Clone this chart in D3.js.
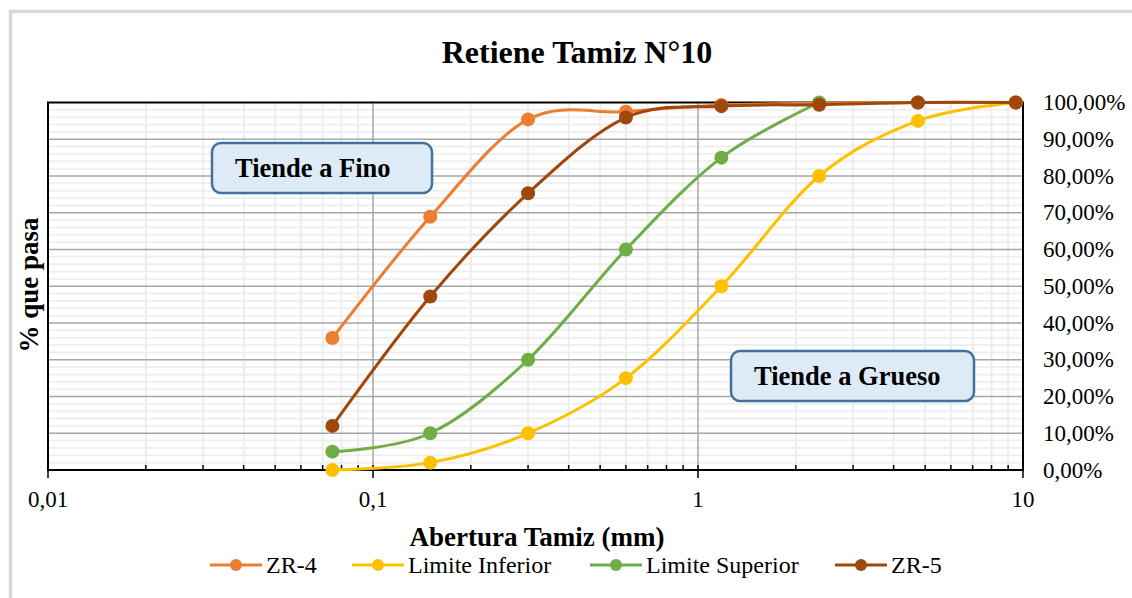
<!DOCTYPE html>
<html>
<head>
<meta charset="utf-8">
<script src="https://cdn.jsdelivr.net/npm/d3@7"></script>
<style>
  html, body { margin: 0; padding: 0; background: #fff; }
  svg { display: block; font-family: "Liberation Serif", "Times New Roman", serif; }
</style>
</head>
<body>
<svg id="chart" width="1132" height="598"></svg>
<script>
// Sieve openings (mm) and cumulative percent passing for each curve
const sieves = [0.075, 0.15, 0.3, 0.6, 1.18, 2.36, 4.75, 9.5];
const zr4 = [35.9, 68.9, 95.4, 97.5, 99.3, 99.8, 100, 100];
const limiteInferior = [0, 2, 10, 25, 50, 80, 95, 100];
const limiteSuperior = [5, 10, 30, 60, 85, 100, null, null];
const zr5 = [12.0, 47.2, 75.3, 95.9, 99.0, 99.4, 100, 100];

const seriesNames = ["ZR-4", "Limite Inferior", "Limite Superior", "ZR-5"];
const seriesColors = ["#ED7D31", "#FFC000", "#70AD47", "#9E480E"];
const seriesValues = [zr4, limiteInferior, limiteSuperior, zr5];

const xTickValues = [0.01, 0.1, 1, 10];
const xTickLabels = ["0,01", "0,1", "1", "10"];
const yTickValues = [0, 10, 20, 30, 40, 50, 60, 70, 80, 90, 100];

const titleText = "Retiene Tamiz N°10";
const xTitle = "Abertura Tamiz (mm)";
const yTitle = "% que pasa";
const noteFino = "Tiende a Fino";
const noteGrueso = "Tiende a Grueso";

const svg = d3.select("#chart");
const plot = { left: 48, right: 1023, top: 102.5, bottom: 470 };

const x = d3.scaleLog().domain([0.01, 10]).range([plot.left, plot.right]);
const y = d3.scaleLinear().domain([0, 100]).range([plot.bottom, plot.top]);

// outer chart frame (only left/top edges fall inside the view)
svg.append("rect")
  .attr("x", 10.5).attr("y", 11.5).attr("width", 1300).attr("height", 800)
  .attr("fill", "#fff").attr("stroke", "#D9D9D9").attr("stroke-width", 3.5);

// title
svg.append("text")
  .attr("x", 577).attr("y", 63)
  .attr("text-anchor", "middle")
  .attr("font-size", 32).attr("font-weight", "bold")
  .text(titleText);

const grid = svg.append("g");

// minor horizontal gridlines every 2 %
const minorY = d3.range(0, 101, 2).filter(v => v % 10 !== 0);
grid.selectAll("line.hminor").data(minorY).join("line")
  .attr("x1", plot.left).attr("x2", plot.right)
  .attr("y1", d => y(d)).attr("y2", d => y(d))
  .attr("stroke", "#EFEFEF").attr("stroke-width", 2);

// minor vertical gridlines at 2..9 in each decade
const minorX = [];
[0.01, 0.1, 1].forEach(dec => { for (let k = 2; k <= 9; k++) minorX.push(dec * k); });
grid.selectAll("line.vminor").data(minorX).join("line")
  .attr("x1", d => x(d)).attr("x2", d => x(d))
  .attr("y1", plot.top).attr("y2", plot.bottom)
  .attr("stroke", "#EDEDED").attr("stroke-width", 2);

// major horizontal gridlines
grid.selectAll("line.hmajor").data(yTickValues.slice(1, -1)).join("line")
  .attr("x1", plot.left).attr("x2", plot.right)
  .attr("y1", d => y(d)).attr("y2", d => y(d))
  .attr("stroke", "#A6A6A6").attr("stroke-width", 1.5);

// major vertical gridlines at decades
grid.selectAll("line.vmajor").data([0.1, 1]).join("line")
  .attr("x1", d => x(d)).attr("x2", d => x(d))
  .attr("y1", plot.top).attr("y2", plot.bottom)
  .attr("stroke", "#A6A6A6").attr("stroke-width", 1.5);

// bottom axis: minor ticks inside, decade ticks crossing
const axisG = svg.append("g");
axisG.selectAll("line.tminor").data(minorX).join("line")
  .attr("x1", d => x(d)).attr("x2", d => x(d))
  .attr("y1", plot.bottom - 5).attr("y2", plot.bottom)
  .attr("stroke", "#000").attr("stroke-width", 1.5);
axisG.selectAll("line.tmajor").data(xTickValues).join("line")
  .attr("x1", d => x(d)).attr("x2", d => x(d))
  .attr("y1", plot.bottom - 5).attr("y2", plot.bottom + 8)
  .attr("stroke", "#000").attr("stroke-width", 1.5);

// plot frame
svg.append("rect")
  .attr("x", plot.left).attr("y", plot.top)
  .attr("width", plot.right - plot.left).attr("height", plot.bottom - plot.top)
  .attr("fill", "none").attr("stroke", "#000").attr("stroke-width", 2);

// x tick labels
svg.append("g").selectAll("text").data(xTickValues).join("text")
  .attr("x", d => x(d)).attr("y", 507)
  .attr("text-anchor", "middle").attr("font-size", 23)
  .text((d, i) => xTickLabels[i]);

// y tick labels on the right
const pctFmt = v => v.toFixed(2).replace(".", ",") + "%";
svg.append("g").selectAll("text").data(yTickValues).join("text")
  .attr("x", 1043).attr("y", d => y(d) + 7.5)
  .attr("font-size", 23)
  .text(d => pctFmt(d));

// axis titles
svg.append("text")
  .attr("x", 537).attr("y", 546)
  .attr("text-anchor", "middle").attr("font-size", 27).attr("font-weight", "bold")
  .text(xTitle);
svg.append("text")
  .attr("transform", "translate(38,285) rotate(-90)")
  .attr("text-anchor", "middle").attr("font-size", 27).attr("font-weight", "bold")
  .text(yTitle);

// series: smoothed lines with circle markers
const line = d3.line()
  .x(d => x(d[0])).y(d => y(d[1]))
  .curve(d3.curveCatmullRom.alpha(0));

seriesValues.forEach((vals, i) => {
  const pts = sieves.map((s, j) => [s, vals[j]]).filter(d => d[1] != null);
  const g = svg.append("g");
  g.append("path")
    .attr("d", line(pts))
    .attr("fill", "none").attr("stroke", seriesColors[i])
    .attr("stroke-width", 3).attr("stroke-linecap", "round");
  g.selectAll("circle").data(pts).join("circle")
    .attr("cx", d => x(d[0])).attr("cy", d => y(d[1]))
    .attr("r", 7).attr("fill", seriesColors[i]);
});

// annotation boxes
function noteBox(bx, by, bw, bh, label) {
  const g = svg.append("g");
  g.append("rect")
    .attr("x", bx).attr("y", by).attr("width", bw).attr("height", bh)
    .attr("rx", 9).attr("ry", 9)
    .attr("fill", "#DEEBF7").attr("stroke", "#41719C").attr("stroke-width", 2.5);
  g.append("text")
    .attr("x", bx + 23).attr("y", by + bh / 2 + 9)
    .attr("font-size", 26.5).attr("font-weight", "bold")
    .text(label);
}
noteBox(212, 143, 220, 50, noteFino);
noteBox(731, 351, 243, 50, noteGrueso);

// legend
const legendX = [210, 352, 590, 835];
const legend = svg.append("g");
seriesNames.forEach((name, i) => {
  const g = legend.append("g").attr("transform", `translate(${legendX[i]},565)`);
  g.append("line").attr("x1", 0).attr("x2", 52).attr("y1", 0).attr("y2", 0)
    .attr("stroke", seriesColors[i]).attr("stroke-width", 3);
  g.append("circle").attr("cx", 26).attr("cy", 0).attr("r", 6).attr("fill", seriesColors[i]);
  g.append("text").attr("x", 56).attr("y", 7.5).attr("font-size", 24).text(name);
});
</script>
</body>
</html>
